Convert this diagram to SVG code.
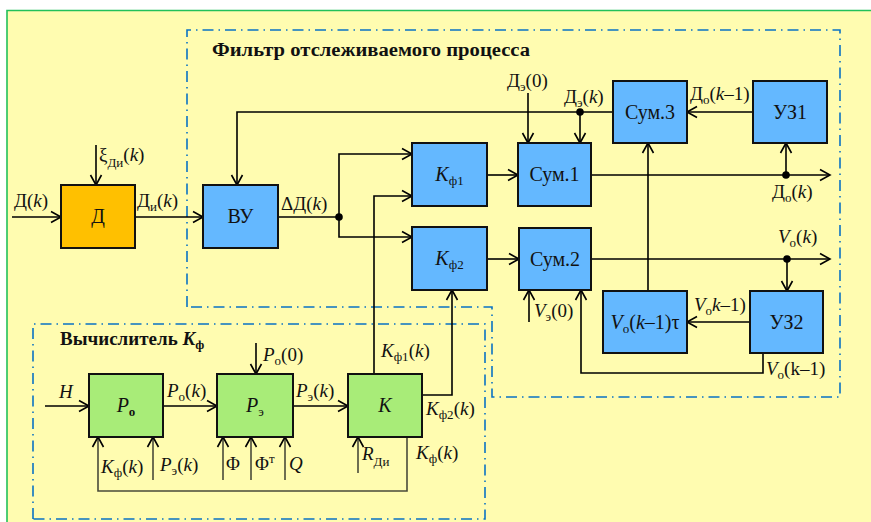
<svg xmlns="http://www.w3.org/2000/svg" width="871" height="522" viewBox="0 0 871 522" font-family="Liberation Serif">
<defs>
<marker id="ar" markerUnits="userSpaceOnUse" markerWidth="14" markerHeight="14" viewBox="-11 -7 13 14" refX="0" refY="0" orient="auto">
<path d="M-10,-5.5 L0,0 L-10,5.5" fill="none" stroke="#000" stroke-width="1.6"/>
</marker>
</defs>

<rect x="0" y="0" width="871" height="522" fill="#ffffff"/>
<rect x="7" y="10" width="864" height="512" fill="#FFFCB0"/>
<path d="M7,522 V10.5 H871" fill="none" stroke="#22C05A" stroke-width="1.6"/>

<g id="frame-filter">
<path d="M187,307 V30 H840 V397 H492 V307 Z" fill="none" stroke="#0A72C4" stroke-width="1.6" stroke-dasharray="11 5 1.5 5"/>
<text font-family="Liberation Serif" style="font-family:'Liberation Serif',serif !important" font-size="18.5" font-weight="bold" fill="#111" x="212" y="56" textLength="318" lengthAdjust="spacingAndGlyphs">Фильтр отслеживаемого процесса</text>
</g>
<g id="frame-calc">
<path d="M33,519 V324 H485 V519 Z" fill="none" stroke="#0A72C4" stroke-width="1.6" stroke-dasharray="11 5 1.5 5"/>
<text font-family="Liberation Serif" style="font-family:'Liberation Serif',serif !important" font-size="19" font-weight="bold" fill="#111" x="60" y="345">Вычислитель <tspan font-style="italic">K</tspan><tspan font-size="13" dy="4">ф</tspan></text>
</g>

<g id="connectors" fill="none" stroke="#000" stroke-width="1.6" marker-end="url(#ar)">
<path d="M12,217 H61"/>
<path d="M96,145 V185"/>
<path d="M135,217 H203"/>
<path d="M278,217 H339" marker-end="none"/>
<path d="M339,217 V154 H412"/>
<path d="M339,217 V237 H412"/>
<path d="M487,175 H518"/>
<path d="M487,259 H519"/>
<path d="M591,175 H830"/>
<path d="M786,175 V143"/>
<path d="M753,112 H687"/>
<path d="M613,112 H237 V185"/>
<path d="M580,112 V143"/>
<path d="M528,93 V143"/>
<path d="M591,259 H830"/>
<path d="M787,259 V291"/>
<path d="M648,291 V143"/>
<path d="M750,322 H687"/>
<path d="M763,353 V373 H581 V290"/>
<path d="M529,322 V290"/>
<path d="M45,406 H89"/>
<path d="M163,406 H217"/>
<path d="M293,406 H348"/>
<path d="M256,343 V374"/>
<path d="M374,374 V196 H412"/>
<path d="M422,395 H452 V290"/>
<g stroke="#4a4a3a">
<path d="M407,437 V491 H98 V437"/>
<path d="M153,480 V437"/>
<path d="M223,480 V437"/>
<path d="M251,480 V437"/>
<path d="M285,480 V437"/>
<path d="M358,473 V437"/>
</g>
</g>
<g id="junctions" fill="#000">
<circle cx="339" cy="217" r="3.8"/>
<circle cx="580" cy="112" r="3.8"/>
<circle cx="786" cy="175" r="3.8"/>
<circle cx="787" cy="259" r="3.8"/>
</g>

<g id="labels" font-family="Liberation Serif" style="font-family:'Liberation Serif',serif !important">
<text font-family="Liberation Serif" style="font-family:'Liberation Serif',serif !important" font-size="19" fill="#111" x="14" y="207">Д(<tspan font-style="italic">k</tspan>)</text>
<text font-family="Liberation Serif" style="font-family:'Liberation Serif',serif !important" font-size="19" fill="#111" x="99" y="161">ξ<tspan font-size="13" dy="6">Ди</tspan><tspan dy="-6">(</tspan><tspan font-style="italic">k</tspan>)</text>
<text font-family="Liberation Serif" style="font-family:'Liberation Serif',serif !important" font-size="19" fill="#111" x="137" y="207">Д<tspan font-size="13" dy="4">и</tspan><tspan dy="-4">(</tspan><tspan font-style="italic">k</tspan>)</text>
<text font-family="Liberation Serif" style="font-family:'Liberation Serif',serif !important" font-size="19" fill="#111" x="281" y="210">ΔД(<tspan font-style="italic">k</tspan>)</text>
<text font-family="Liberation Serif" style="font-family:'Liberation Serif',serif !important" font-size="19" fill="#111" x="507" y="87">Д<tspan font-size="13" dy="4">э</tspan><tspan dy="-4">(0)</tspan></text>
<text font-family="Liberation Serif" style="font-family:'Liberation Serif',serif !important" font-size="19" fill="#111" x="564" y="103">Д<tspan font-size="13" dy="4">э</tspan><tspan dy="-4">(</tspan><tspan font-style="italic">k</tspan>)</text>
<text font-family="Liberation Serif" style="font-family:'Liberation Serif',serif !important" font-size="19" fill="#111" x="690" y="100">Д<tspan font-size="13" dy="4">о</tspan><tspan dy="-4">(</tspan><tspan font-style="italic">k</tspan>–1)</text>
<text font-family="Liberation Serif" style="font-family:'Liberation Serif',serif !important" font-size="19" fill="#111" x="772" y="198">Д<tspan font-size="13" dy="4">о</tspan><tspan dy="-4">(</tspan><tspan font-style="italic">k</tspan>)</text>
<text font-family="Liberation Serif" style="font-family:'Liberation Serif',serif !important" font-size="19" fill="#111" x="778" y="243"><tspan font-style="italic">V</tspan><tspan font-size="13" dy="4">о</tspan><tspan dy="-4">(</tspan><tspan font-style="italic">k</tspan>)</text>
<text font-family="Liberation Serif" style="font-family:'Liberation Serif',serif !important" font-size="19" fill="#111" x="534" y="317"><tspan font-style="italic">V</tspan><tspan font-size="13" dy="4">э</tspan><tspan dy="-4">(0)</tspan></text>
<text font-family="Liberation Serif" style="font-family:'Liberation Serif',serif !important" font-size="19" fill="#111" x="694" y="311"><tspan font-style="italic">V</tspan><tspan font-size="13" dy="4">о</tspan><tspan dy="-4" font-style="italic">k</tspan>–1)</text>
<text font-family="Liberation Serif" style="font-family:'Liberation Serif',serif !important" font-size="19" fill="#111" x="766" y="375"><tspan font-style="italic">V</tspan><tspan font-size="13" dy="4">о</tspan><tspan dy="-4">(k–1)</tspan></text>
<text font-family="Liberation Serif" style="font-family:'Liberation Serif',serif !important" font-size="19" fill="#111" x="59" y="398" font-style="italic">H</text>
<text font-family="Liberation Serif" style="font-family:'Liberation Serif',serif !important" font-size="19" fill="#111" x="167" y="397"><tspan font-style="italic">P</tspan><tspan font-size="13" dy="4">о</tspan><tspan dy="-4">(</tspan><tspan font-style="italic">k</tspan>)</text>
<text font-family="Liberation Serif" style="font-family:'Liberation Serif',serif !important" font-size="19" fill="#111" x="296" y="397"><tspan font-style="italic">P</tspan><tspan font-size="13" dy="4">э</tspan><tspan dy="-4">(</tspan><tspan font-style="italic">k</tspan>)</text>
<text font-family="Liberation Serif" style="font-family:'Liberation Serif',serif !important" font-size="19" fill="#111" x="263" y="361"><tspan font-style="italic">P</tspan><tspan font-size="13" dy="4">о</tspan><tspan dy="-4">(0)</tspan></text>
<text font-family="Liberation Serif" style="font-family:'Liberation Serif',serif !important" font-size="19" fill="#111" x="381" y="357"><tspan font-style="italic">K</tspan><tspan font-size="13" dy="4">ф1</tspan><tspan dy="-4">(</tspan><tspan font-style="italic">k</tspan>)</text>
<text font-family="Liberation Serif" style="font-family:'Liberation Serif',serif !important" font-size="19" fill="#111" x="426" y="415"><tspan font-style="italic">K</tspan><tspan font-size="13" dy="4">ф2</tspan><tspan dy="-4">(</tspan><tspan font-style="italic">k</tspan>)</text>
<text font-family="Liberation Serif" style="font-family:'Liberation Serif',serif !important" font-size="19" fill="#111" x="416" y="459"><tspan font-style="italic">K</tspan><tspan font-size="13" dy="4">ф</tspan><tspan dy="-4">(</tspan><tspan font-style="italic">k</tspan>)</text>
<text font-family="Liberation Serif" style="font-family:'Liberation Serif',serif !important" font-size="19" fill="#111" x="362" y="460"><tspan font-style="italic">R</tspan><tspan font-size="13" dy="6">Ди</tspan></text>
<text font-family="Liberation Serif" style="font-family:'Liberation Serif',serif !important" font-size="19" fill="#111" x="101" y="473"><tspan font-style="italic">K</tspan><tspan font-size="13" dy="4">ф</tspan><tspan dy="-4">(</tspan><tspan font-style="italic">k</tspan>)</text>
<text font-family="Liberation Serif" style="font-family:'Liberation Serif',serif !important" font-size="19" fill="#111" x="160" y="471"><tspan font-style="italic">P</tspan><tspan font-size="13" dy="4">э</tspan><tspan dy="-4">(</tspan><tspan font-style="italic">k</tspan>)</text>
<text font-family="Liberation Serif" style="font-family:'Liberation Serif',serif !important" font-size="19" fill="#111" x="226" y="470">Φ</text>
<text font-family="Liberation Serif" style="font-family:'Liberation Serif',serif !important" font-size="19" fill="#111" x="255" y="470">Φ<tspan font-size="13" dy="-7">т</tspan></text>
<text font-family="Liberation Serif" style="font-family:'Liberation Serif',serif !important" font-size="19" fill="#111" x="289" y="470" font-style="italic">Q</text>
</g>

<g id="node-D"><rect x="61" y="185" width="74" height="63" fill="#FFC000" stroke="#111" stroke-width="2"/><text font-family="Liberation Serif" style="font-family:'Liberation Serif',serif !important" font-size="20" fill="#111" x="98" y="223" text-anchor="middle">Д</text></g>
<g id="node-VU"><rect x="203" y="185" width="75" height="63" fill="#64B8FF" stroke="#111" stroke-width="2"/><text font-family="Liberation Serif" style="font-family:'Liberation Serif',serif !important" font-size="20" fill="#111" x="240.5" y="223" text-anchor="middle">ВУ</text></g>
<g id="node-Kf1"><rect x="412" y="143" width="75" height="63" fill="#64B8FF" stroke="#111" stroke-width="2"/><text font-family="Liberation Serif" style="font-family:'Liberation Serif',serif !important" font-size="20" fill="#111" x="449.5" y="181" text-anchor="middle"><tspan font-style="italic">K</tspan><tspan font-size="13" dy="4">ф1</tspan></text></g>
<g id="node-Kf2"><rect x="412" y="227" width="75" height="63" fill="#64B8FF" stroke="#111" stroke-width="2"/><text font-family="Liberation Serif" style="font-family:'Liberation Serif',serif !important" font-size="20" fill="#111" x="449.5" y="265" text-anchor="middle"><tspan font-style="italic">K</tspan><tspan font-size="13" dy="4">ф2</tspan></text></g>
<g id="node-Sum1"><rect x="518" y="143" width="73" height="63" fill="#64B8FF" stroke="#111" stroke-width="2"/><text font-family="Liberation Serif" style="font-family:'Liberation Serif',serif !important" font-size="20" fill="#111" x="554.5" y="181" text-anchor="middle">Сум.1</text></g>
<g id="node-Sum2"><rect x="519" y="228" width="72" height="62" fill="#64B8FF" stroke="#111" stroke-width="2"/><text font-family="Liberation Serif" style="font-family:'Liberation Serif',serif !important" font-size="20" fill="#111" x="555" y="266" text-anchor="middle">Сум.2</text></g>
<g id="node-Sum3"><rect x="613" y="81" width="74" height="62" fill="#64B8FF" stroke="#111" stroke-width="2"/><text font-family="Liberation Serif" style="font-family:'Liberation Serif',serif !important" font-size="20" fill="#111" x="650" y="119" text-anchor="middle">Сум.3</text></g>
<g id="node-UZ1"><rect x="753" y="81" width="74" height="62" fill="#64B8FF" stroke="#111" stroke-width="2"/><text font-family="Liberation Serif" style="font-family:'Liberation Serif',serif !important" font-size="20" fill="#111" x="790" y="119" text-anchor="middle">УЗ1</text></g>
<g id="node-Vtau"><rect x="603" y="291" width="84" height="62" fill="#64B8FF" stroke="#111" stroke-width="2"/><text font-family="Liberation Serif" style="font-family:'Liberation Serif',serif !important" font-size="20" fill="#111" x="645" y="329" text-anchor="middle"><tspan font-style="italic">V</tspan><tspan font-size="13" dy="4">о</tspan><tspan dy="-4">(</tspan><tspan font-style="italic">k</tspan>–1)τ</text></g>
<g id="node-UZ2"><rect x="750" y="291" width="73" height="62" fill="#64B8FF" stroke="#111" stroke-width="2"/><text font-family="Liberation Serif" style="font-family:'Liberation Serif',serif !important" font-size="20" fill="#111" x="786.5" y="329" text-anchor="middle">УЗ2</text></g>
<g id="node-Po"><rect x="89" y="374" width="74" height="63" fill="#A8EC78" stroke="#111" stroke-width="2"/><text font-family="Liberation Serif" style="font-family:'Liberation Serif',serif !important" font-size="20" fill="#111" x="126" y="412" text-anchor="middle"><tspan font-style="italic">P</tspan><tspan font-size="13" dy="4" font-weight="bold">о</tspan></text></g>
<g id="node-Pe"><rect x="217" y="374" width="76" height="63" fill="#A8EC78" stroke="#111" stroke-width="2"/><text font-family="Liberation Serif" style="font-family:'Liberation Serif',serif !important" font-size="20" fill="#111" x="255" y="412" text-anchor="middle"><tspan font-style="italic">P</tspan><tspan font-size="13" dy="4">э</tspan></text></g>
<g id="node-K"><rect x="348" y="374" width="74" height="63" fill="#A8EC78" stroke="#111" stroke-width="2"/><text font-family="Liberation Serif" style="font-family:'Liberation Serif',serif !important" font-size="20" fill="#111" x="385" y="412" text-anchor="middle" font-style="italic">K</text></g>
</svg>
